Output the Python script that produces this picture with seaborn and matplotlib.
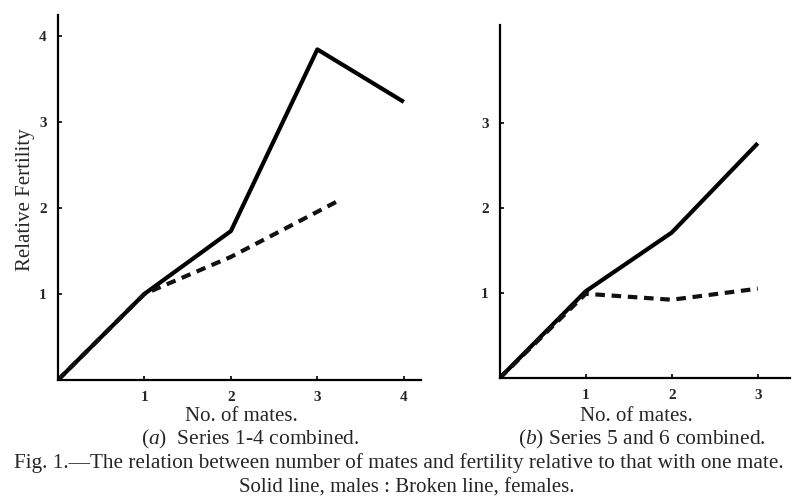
import matplotlib
matplotlib.use("Agg")
import matplotlib.pyplot as plt
import seaborn as sns
import pandas as pd

# ---- data ----
mates_a_male = [0, 1, 2, 3, 4]
fert_a_male = [0, 1.0, 1.73, 3.84, 3.23]
mates_a_female = [0, 1, 2, 3.24]
fert_a_female = [0, 1.0, 1.43, 2.08]

mates_b_male = [0, 1, 2, 3]
fert_b_male = [0, 1.02, 1.71, 2.76]
mates_b_female = [0, 1, 2, 3]
fert_b_female = [0, 0.99, 0.92, 1.05]

xticks_a = [1, 2, 3, 4]
yticks_a = [1, 2, 3, 4]
xticks_b = [1, 2, 3]
yticks_b = [1, 2, 3]

sns.set_theme(style="white")
plt.rcParams['font.family'] = ['Liberation Serif', 'DejaVu Serif']
plt.rcParams['mathtext.fontset'] = 'custom'
plt.rcParams['mathtext.rm'] = 'Liberation Serif'
plt.rcParams['mathtext.it'] = 'Liberation Serif:italic'

def make_df(xm, ym, xf, yf):
    return pd.concat([
        pd.DataFrame({"mates": xm, "fert": ym, "sex": "males"}),
        pd.DataFrame({"mates": xf, "fert": yf, "sex": "females"}),
    ], ignore_index=True)

df_a = make_df(mates_a_male, fert_a_male, mates_a_female, fert_a_female)
df_b = make_df(mates_b_male, fert_b_male, mates_b_female, fert_b_female)

fig = plt.figure(figsize=(7.92, 4.99), dpi=100)
ax1 = fig.add_axes([0.0732, 0.2385, 0.4585, 0.7315])
ax2 = fig.add_axes([0.631, 0.2425, 0.366, 0.7074])

for ax, df, xt, yt, xmax, ymax in [
    (ax1, df_a, xticks_a, yticks_a, 4.2, 4.24),
    (ax2, df_b, xticks_b, yticks_b, 3.37, 4.15),
]:
    sns.lineplot(data=df, x="mates", y="fert", style="sex", hue="sex",
                 palette={"males": "black", "females": "#111111"},
                 dashes={"males": "", "females": (2.3, 1.6)},
                 estimator=None, sort=False, linewidth=3.0, ax=ax, legend=False)
    for line in ax.get_lines():
        line.set_solid_capstyle("butt")
        line.set_dash_capstyle("butt")
    ax.set_xlim(0, xmax)
    ax.set_ylim(0, ymax)
    ax.set_xticks(xt)
    ax.set_yticks(yt)
    ax.set_xticklabels([str(v) for v in xt], fontsize=11, fontweight="bold")
    ax.set_yticklabels([str(v) for v in yt], fontsize=11, fontweight="bold")
    ax.tick_params(direction="in", length=3, width=1.2, color="black",
                   bottom=True, left=True, pad=8)
    for s in ["top", "right"]:
        ax.spines[s].set_visible(False)
    for s in ["left", "bottom"]:
        ax.spines[s].set_linewidth(1.6)
        ax.spines[s].set_color("black")
    ax.set_xlabel("")
    ax.set_ylabel("")
    ax.set_facecolor("none")

fig.text(0.032, 0.60, "Relative Fertility", fontsize=15, rotation=90,
         ha="center", va="center")

fig.text(0.305, 0.166, "No. of mates.", fontsize=15, ha="center", va="center")
fig.text(0.804, 0.166, "No. of mates.", fontsize=15, ha="center", va="center")
fig.text(0.316, 0.120, r"($\it{a}$)  Series 1-4 combined.", fontsize=15.5,
         ha="center", va="center")
fig.text(0.811, 0.120, r"($\it{b}$) Series 5 and 6 combined.", fontsize=15.5,
         ha="center", va="center")
fig.text(0.503, 0.072, "Fig. 1.\u2014The relation between number of mates and fertility relative to that with one mate.",
         fontsize=15.3, ha="center", va="center")
fig.text(0.514, 0.022, "Solid line, males : Broken line, females.",
         fontsize=15, ha="center", va="center")

fig.savefig("out.png", dpi=100, facecolor="white")
